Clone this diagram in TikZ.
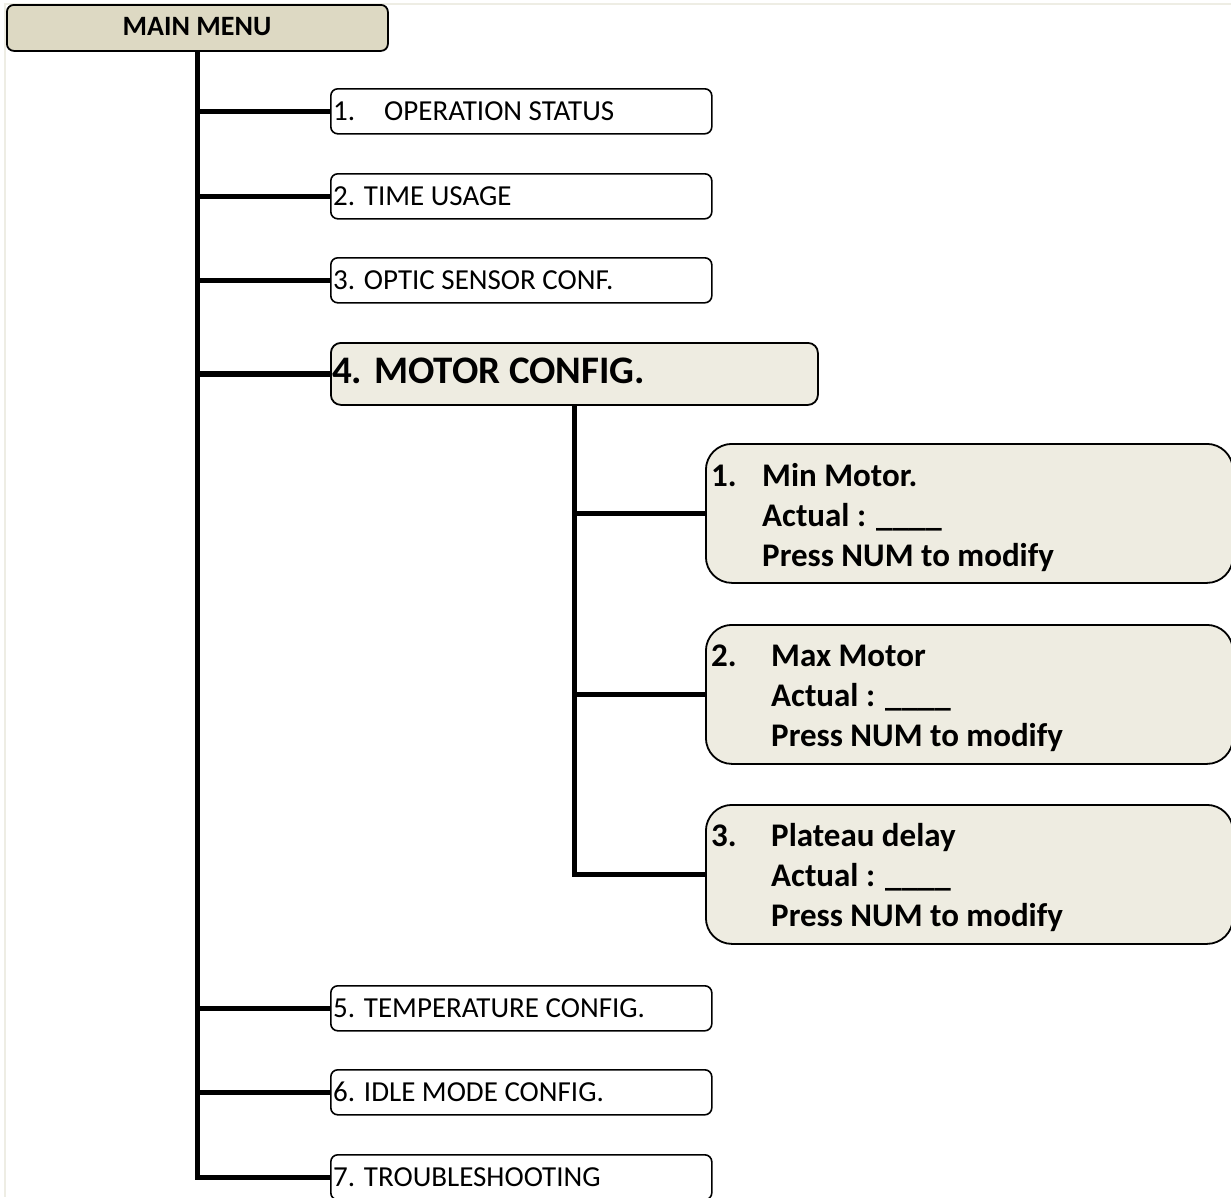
\documentclass[tikz,border=0pt]{standalone}
\usepackage{fontspec}
\setmainfont{Carlito}
\definecolor{tandark}{HTML}{DDD9C3}
\definecolor{tanlight}{HTML}{EEECE1}
\definecolor{framecol}{HTML}{EEEDE4}
\begin{document}
\begin{tikzpicture}[x=1pt,y=-1pt,
  box/.style={draw=black, line width=1.6pt, rounded corners=7pt, fill=white,
    anchor=north west, inner sep=0pt, minimum width=381pt, minimum height=45pt},
  headbox/.style={box, fill=tandark, line width=1.8pt, minimum height=46pt},
  motorbox/.style={box, fill=tanlight, line width=1.8pt, rounded corners=10pt,
    minimum width=487pt, minimum height=62pt},
  subbox/.style={box, fill=tanlight, line width=1.8pt, rounded corners=26pt,
    minimum width=527pt, minimum height=139pt},
  link/.style={line width=5.5pt, line join=miter},
  plain/.style={anchor=base west, inner sep=0pt, font=\fontsize{29}{35}\selectfont},
  headtxt/.style={anchor=base, inner sep=0pt, font=\fontsize{28}{34}\selectfont\bfseries},
  motortxt/.style={anchor=base west, inner sep=0pt, font=\fontsize{39}{47}\selectfont\bfseries},
  subtxt/.style={anchor=base west, inner sep=0pt, font=\fontsize{33}{40}\selectfont\bfseries}
]
\useasboundingbox (0,0) rectangle (1231,1197);
\clip (0,0) rectangle (1231,1197);

% faint page frame
\draw[framecol, line width=2pt] (5,1197) -- (5,3.7) -- (1231,3.7);

% main menu and first-level entries
\node[headbox] (mm) at (6,4) {};
\node[box] (b1) at (330,88) {};
\node[box] (b2) at (330,173) {};
\node[box] (b3) at (330,257) {};
\node[motorbox] (mc) at (330,342) {};
\node[box] (b5) at (330,985) {};
\node[box] (b6) at (330,1069) {};
\node[box] (b7) at (330,1154) {};

% motor sub-menu entries
\node[subbox] (s1) at (705,443) {};
\node[subbox] (s2) at (705,624) {};
\node[subbox] (s3) at (705,804) {};

% main trunk and branches
\draw[link] (mm.south) -- (mm.south |- b7.west) -- (b7.west);
\foreach \b in {b1,b2,b3,mc,b5,b6}
  \draw[link] (mm.south |- \b.west) -- (\b.west);

% sub trunk and branches
\draw[link] (mc.south) -- (mc.south |- s3.west) -- (s3.west);
\foreach \b in {s1,s2}
  \draw[link] (mc.south |- \b.west) -- (\b.west);

% labels
\node[headtxt] (tmm) at (197,35) {MAIN MENU};
\node[plain] (t1n) at (333,120.5) {1.};
\node[plain] (t1) at (384,120.5) {OPERATION STATUS};
\node[plain] (t2) at (333,205) {2. TIME USAGE};
\node[plain] (t3) at (333,289) {3. OPTIC SENSOR CONF.};
\node[motortxt] (t4) at (332,383) {4. MOTOR CONFIG.};
\node[plain] (t5) at (333,1017) {5. TEMPERATURE CONFIG.};
\node[plain] (t6) at (333,1101) {6. IDLE MODE CONFIG.};
\node[plain] (t7) at (333,1186) {7. TROUBLESHOOTING};

\node[subtxt] (s1n) at (711,486) {1.};
\node[subtxt] (s1a) at (762,486) {Min Motor.};
\node[subtxt] (s1b) at (762,526) {Actual : \_\_\_\_};
\node[subtxt] (s1c) at (762,566) {Press NUM to modify};

\node[subtxt] (s2n) at (711,666) {2.};
\node[subtxt] (s2a) at (771,666) {Max Motor};
\node[subtxt] (s2b) at (771,706) {Actual : \_\_\_\_};
\node[subtxt] (s2c) at (771,746) {Press NUM to modify};

\node[subtxt] (s3n) at (711,846) {3.};
\node[subtxt] (s3a) at (771,846) {Plateau delay};
\node[subtxt] (s3b) at (771,886) {Actual : \_\_\_\_};
\node[subtxt] (s3c) at (771,926) {Press NUM to modify};
\end{tikzpicture}
\end{document}
